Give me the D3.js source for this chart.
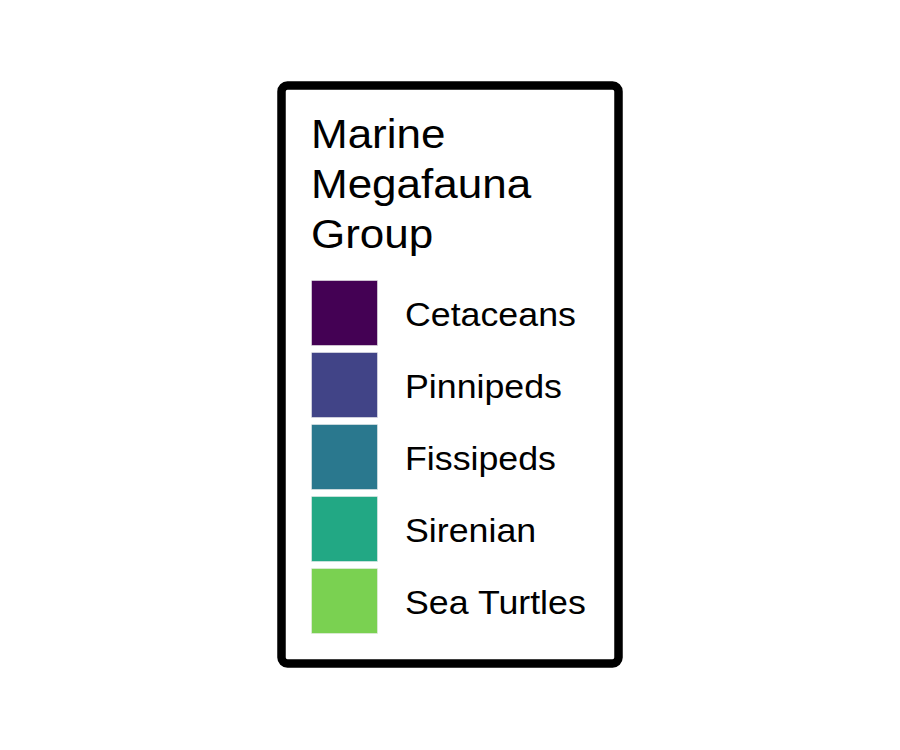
<!DOCTYPE html>
<html>
<head>
<meta charset="utf-8">
<script src="https://cdn.jsdelivr.net/npm/d3@7"></script>
<style>
  html, body { margin: 0; padding: 0; background: #fff; }
  svg { display: block; }
</style>
</head>
<body>
<svg id="chart" width="900" height="750"></svg>
<script>
const titleLines = ["Marine", "Megafauna", "Group"];
const categories = ["Cetaceans", "Pinnipeds", "Fissipeds", "Sirenian", "Sea Turtles"];
const colors = ["#440154", "#414487", "#2A788E", "#22A884", "#7AD151"];

const svg = d3.select("#chart");
const font = "'Liberation Sans', Arial, Helvetica, sans-serif";
const stretch = 1.1;

// frame
svg.append("rect")
  .attr("x", 281.5).attr("y", 85.5)
  .attr("width", 337).attr("height", 578)
  .attr("rx", 6).attr("ry", 6)
  .attr("fill", "#fff")
  .attr("stroke", "#000")
  .attr("stroke-width", 8.5);

// title
const titleX = 311;
const title = svg.append("g").attr("transform", `translate(${titleX},0) scale(${stretch},1)`);
title.selectAll("text").data(titleLines).join("text")
  .attr("x", 0)
  .attr("y", (d, i) => 148.5 + i * 50)
  .attr("font-family", font)
  .attr("font-size", 40)
  .attr("fill", "#000")
  .text(d => d);

// swatches
const color = d3.scaleOrdinal().domain(categories).range(colors);
const y = d3.scaleBand().domain(categories).range([280, 280 + 72 * categories.length]).padding(0);

const items = svg.append("g").selectAll("g").data(categories).join("g");
items.append("rect")
  .attr("x", 311.5)
  .attr("y", d => y(d) + 0.5)
  .attr("width", 66)
  .attr("height", y.step() - 7)
  .attr("fill", d => color(d))
  .attr("stroke", "#ebebeb")
  .attr("stroke-width", 0.6);

items.append("text")
  .attr("transform", d => `translate(405,${y(d) + 46}) scale(${stretch},1)`)
  .attr("font-family", font)
  .attr("font-size", 32.5)
  .attr("fill", "#000")
  .text(d => d);
</script>
</body>
</html>
